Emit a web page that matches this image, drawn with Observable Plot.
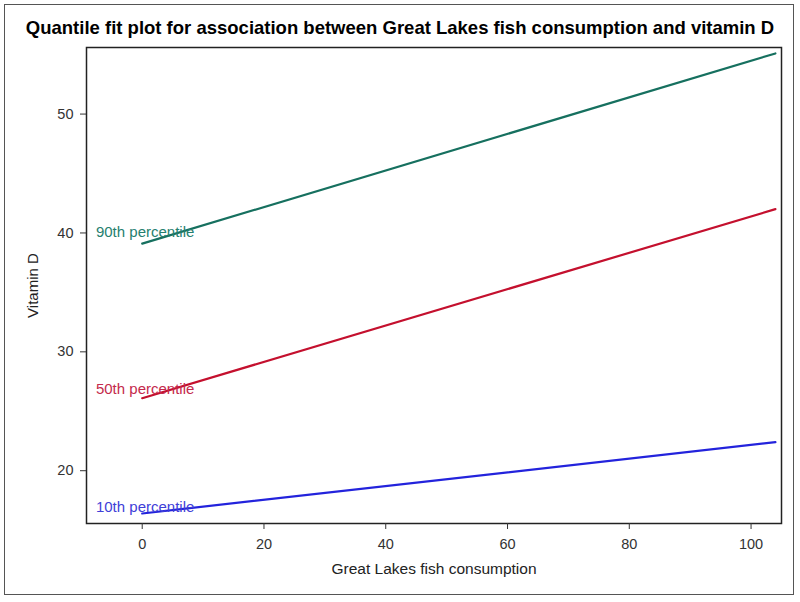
<!DOCTYPE html>
<html>
<head>
<meta charset="utf-8">
<script src="https://cdn.jsdelivr.net/npm/d3@7"></script>
<script src="https://cdn.jsdelivr.net/npm/@observablehq/plot@0.6"></script>
<style>
  body { margin: 0; background: #fff; font-family: "Liberation Sans", Arial, sans-serif; }
  #wrap { position: relative; width: 800px; height: 602px; overflow: hidden; }
  #title { height: 40px; box-sizing: border-box; padding-top: 17px; line-height: 22px; text-align: center;
           font-size: 18.5px; font-weight: bold; color: #000; white-space: nowrap; }
  #border { position: absolute; left: 4px; top: 4px; width: 788px; height: 589px; border: 1.5px solid #555; pointer-events: none; }
  svg { display: block; }
</style>
</head>
<body>
<div id="wrap">
  <div id="title">Quantile fit plot for association between Great Lakes fish consumption and vitamin D</div>
  <div id="chart"></div>
  <div id="border"></div>
</div>
<script>
// Data
const quantiles = ["10th percentile", "50th percentile", "90th percentile"];
const xStart = 0;
const xEnd = 104;
const yAtStart = [16.4, 26.1, 39.1];
const yAtEnd = [22.4, 42.0, 55.1];
const labelY = [16.9, 26.9, 40.1];
const labelX = -7.6;
const xTicks = [0, 20, 40, 60, 80, 100];
const yTicks = [20, 30, 40, 50];
const lineColors = ["#2323dc", "#c4102e", "#16705f"];
const labelColors = ["#4040d8", "#c42a4c", "#26806f"];

const lineData = quantiles.flatMap((q, i) => [
  {q, x: xStart, y: yAtStart[i]},
  {q, x: xEnd, y: yAtEnd[i]}
]);
const labelData = quantiles.map((q, i) => ({q, x: labelX, y: labelY[i]}));

const chart = Plot.plot({
  width: 800,
  height: 562,
  marginLeft: 86,
  marginRight: 19,
  marginTop: 7,
  marginBottom: 79,
  style: { fontFamily: "'Liberation Sans', Arial, sans-serif", fontSize: "14px", color: "#222", background: "#fff" },
  x: { domain: [-9.15, 105.0], label: null },
  y: { domain: [15.56, 55.6], label: null },
  color: { domain: quantiles, range: lineColors },
  marks: [
    Plot.frame({ stroke: "#222", strokeWidth: 1.5 }),
    Plot.axisX({ ticks: xTicks, tickSize: 6, tickPadding: 9, fontSize: 14.5, fill: "#333", stroke: "#333", label: null }),
    Plot.axisY({ ticks: yTicks, tickSize: 6, tickPadding: 7, fontSize: 14.5, fill: "#333", stroke: "#333", label: null }),
    Plot.line(lineData, { x: "x", y: "y", z: "q", stroke: "q", strokeWidth: 2.2 }),
    Plot.text(labelData, { x: "x", y: "y", text: "q", textAnchor: "start", fontSize: 15,
      fill: d => labelColors[quantiles.indexOf(d.q)] }),
    Plot.text(["Great Lakes fish consumption"], { frameAnchor: "bottom", dy: 50, fontSize: 15.5, fill: "#222" }),
    Plot.text(["Vitamin D"], { frameAnchor: "left", textAnchor: "middle", dx: -53, rotate: -90, fontSize: 15, fill: "#222" })
  ]
});
document.getElementById("chart").appendChild(chart);
</script>
</body>
</html>
